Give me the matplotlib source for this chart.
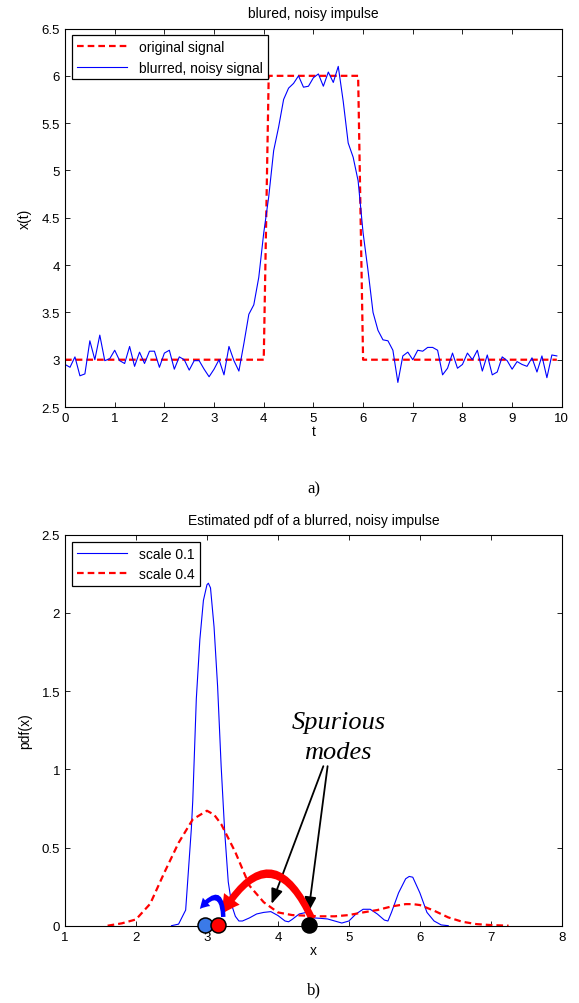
import numpy as np
import matplotlib
matplotlib.use('Agg')
from matplotlib import pyplot as plt

plt.rcParams['font.family'] = ['Liberation Sans', 'DejaVu Sans']
plt.rcParams['font.size'] = 10

# --- a) signal ---
t = np.arange(0, 10, 0.1)
noisy = [2.95, 2.92, 3.03, 2.83, 2.85, 3.2, 3.0, 3.26, 2.99, 3.01,
         3.1, 2.99, 2.96, 3.14, 2.93, 3.08, 2.96, 3.09, 3.09, 2.92,
         3.07, 3.1, 2.9, 3.03, 3.0, 2.89, 2.99, 2.99, 2.9, 2.82,
         2.9, 3.0, 2.84, 3.14, 2.99, 2.88, 3.17, 3.48, 3.58, 3.87,
         4.34, 4.72, 5.21, 5.46, 5.75, 5.87, 5.92, 6.0, 5.88, 5.89,
         5.98, 6.02, 5.89, 6.04, 5.93, 6.1, 5.73, 5.29, 5.14, 4.89,
         4.34, 3.94, 3.5, 3.31, 3.21, 3.2, 3.1, 2.76, 3.04, 3.08,
         3.0, 3.1, 3.09, 3.13, 3.13, 3.1, 2.84, 2.91, 3.07, 2.91,
         2.95, 3.07, 3.0, 3.1, 2.88, 3.05, 2.84, 2.87, 3.03, 2.99,
         2.9, 2.98, 2.95, 2.93, 3.02, 2.87, 3.04, 2.81, 3.05, 3.04]
orig_t = [0, 4.0, 4.1, 5.9, 6.0, 9.9]
orig_x = [3, 3, 6, 6, 3, 3]

# --- b) estimated pdf ---
x01 = [2.5, 2.6, 2.7, 2.78, 2.8, 2.85, 2.9, 2.95, 3.0, 3.02, 3.05, 3.1, 3.15,
       3.2, 3.25, 3.3, 3.35, 3.4, 3.45, 3.5, 3.6, 3.7, 3.8, 3.9, 4.0, 4.1,
       4.15, 4.2, 4.3, 4.4, 4.5, 4.6, 4.7, 4.8, 4.9, 5.0, 5.1, 5.2, 5.3,
       5.4, 5.5, 5.55, 5.6, 5.7, 5.8, 5.85, 5.9, 6.0, 6.1, 6.2, 6.3, 6.4]
p01 = [0, 0.01, 0.1, 0.62, 0.8, 1.45, 1.83, 2.08, 2.18, 2.19, 2.16, 1.91, 1.53,
       1.02, 0.6, 0.28, 0.13, 0.06, 0.03, 0.03, 0.05, 0.075, 0.085, 0.09, 0.065, 0.03,
       0.025, 0.04, 0.075, 0.085, 0.05, 0.047, 0.043, 0.03, 0.017, 0.03, 0.075, 0.105, 0.105,
       0.075, 0.036, 0.03, 0.085, 0.21, 0.3, 0.315, 0.31, 0.21, 0.085, 0.03, 0.005, 0]
x04 = [1.6, 1.8, 2.0, 2.2, 2.4, 2.6, 2.8, 3.0, 3.1, 3.2, 3.4, 3.6, 3.8, 4.0,
       4.2, 4.4, 4.6, 4.8, 5.0, 5.2, 5.4, 5.6, 5.8, 5.9, 6.0, 6.2, 6.4, 6.6,
       6.8, 7.0, 7.25]
p04 = [0, 0.015, 0.04, 0.14, 0.34, 0.53, 0.68, 0.735, 0.71, 0.65, 0.47, 0.255, 0.15, 0.085,
       0.068, 0.064, 0.06, 0.06, 0.068, 0.085, 0.1, 0.123, 0.138, 0.138, 0.132, 0.096, 0.053, 0.025,
       0.01, 0.004, 0]

# modes marked on the x axis
mode_x = [2.97, 3.16, 4.44]
mode_c = ['#3b7ae8', 'red', 'black']

fig = plt.figure(figsize=(5.79, 10.04), dpi=100)
serif = ['Liberation Serif', 'DejaVu Serif']


def matlab_axes(ax):
    ax.tick_params(direction='in', top=True, right=True, length=3.5, width=0.6,
                   labelsize=9.5, pad=3.5)
    for s in ax.spines.values():
        s.set_linewidth(0.8)


def matlab_legend(ax):
    leg = ax.legend(loc='upper left', fancybox=False, edgecolor='black', fontsize=10,
                    borderaxespad=0.5, handlelength=3.6, framealpha=1,
                    borderpad=0.35, labelspacing=0.45, handletextpad=0.9)
    leg.get_frame().set_linewidth(0.9)


ax1 = fig.add_axes([0.1123, 0.5936, 0.858, 0.377])
ax1.plot(orig_t, orig_x, 'r--', linewidth=1.6, dashes=(3, 1.8), label='original signal')
ax1.plot(t, noisy, color='blue', linewidth=0.8, label='blurred, noisy signal')
ax1.set_xlim(0, 10)
ax1.set_ylim(2.5, 6.5)
ax1.set_xticks(range(0, 11))
ax1.set_yticks(np.arange(2.5, 6.51, 0.5))
ax1.set_yticklabels(['2.5', '3', '3.5', '4', '4.5', '5', '5.5', '6', '6.5'])
ax1.set_title('blured, noisy impulse', fontsize=10, pad=8)
ax1.set_xlabel('t', labelpad=0)
ax1.set_ylabel('x(t)', labelpad=7)
matlab_axes(ax1)
matlab_legend(ax1)

ax2 = fig.add_axes([0.1123, 0.0770, 0.858, 0.3894])
ax2.plot(x01, p01, color='blue', linewidth=0.8, label='scale 0.1')
ax2.plot(x04, p04, 'r--', linewidth=1.6, dashes=(3, 1.8), label='scale 0.4')
ax2.set_xlim(1, 8)
ax2.set_ylim(0, 2.5)
ax2.set_xticks(range(1, 9))
ax2.set_yticks(np.arange(0, 2.51, 0.5))
ax2.set_yticklabels(['0', '0.5', '1', '1.5', '2', '2.5'])
ax2.set_title('Estimated pdf of a blurred, noisy impulse', fontsize=10, pad=8)
ax2.set_xlabel('x', labelpad=0)
ax2.set_ylabel('pdf(x)', labelpad=7)
matlab_axes(ax2)
matlab_legend(ax2)

# annotations
ax2.text(4.85, 1.205, 'Spurious\nmodes', ha='center', va='center', fontsize=19,
         style='italic', family=serif, linespacing=1.45)
for tip, tail in [((3.91, 0.139), (4.64, 1.02)), ((4.43, 0.086), (4.70, 1.02))]:
    ax2.annotate('', xy=tip, xytext=tail,
                 arrowprops=dict(arrowstyle='-|>,head_length=0.9,head_width=0.35',
                                 color='black', lw=1.3, shrinkA=0, shrinkB=0,
                                 mutation_scale=10))

ax2.annotate('', xy=(3.21, 0.075), xytext=(4.48, 0.043),
             arrowprops=dict(arrowstyle='simple,head_length=1.3,head_width=1.4,tail_width=0.5',
                             color='red', lw=0, shrinkA=0, shrinkB=0, mutation_scale=10,
                             connectionstyle='arc3,rad=0.95'))
ax2.annotate('', xy=(2.90, 0.107), xytext=(3.23, 0.056),
             arrowprops=dict(arrowstyle='simple,head_length=0.7,head_width=0.8,tail_width=0.32',
                             color='blue', lw=0, shrinkA=0, shrinkB=0, mutation_scale=10,
                             connectionstyle='arc3,rad=1.3'))

for mx, mc in zip(mode_x, mode_c):
    ax2.plot(mx, 0.005, 'o', markersize=10.8, markerfacecolor=mc,
             markeredgecolor='black', markeredgewidth=1.1, clip_on=False, zorder=5)

fig.text(0.5425, 1 - 489 / 1004, 'a)', ha='center', va='center', fontsize=12, family=serif)
fig.text(0.5425, 1 - 990 / 1004, 'b)', ha='center', va='center', fontsize=12, family=serif)

fig.savefig('out.png', dpi=100)
